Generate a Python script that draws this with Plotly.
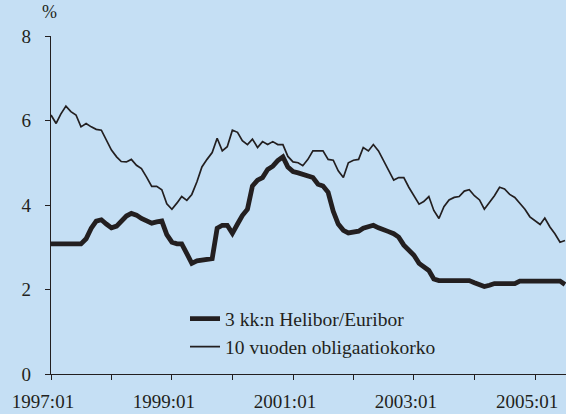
import plotly.graph_objects as go
import pandas as pd

start = "1997-01-01"
euribor = [3.08, 3.08, 3.08, 3.08, 3.08, 3.08, 3.08, 3.20, 3.45, 3.62,
           3.65, 3.55, 3.46, 3.50, 3.62, 3.74, 3.80, 3.76, 3.68, 3.62,
           3.57, 3.60, 3.62, 3.30, 3.12, 3.08, 3.08, 2.85, 2.62, 2.68,
           2.70, 2.72, 2.73, 3.45, 3.52, 3.52, 3.33, 3.55, 3.75, 3.90,
           4.45, 4.59, 4.65, 4.84, 4.92, 5.05, 5.14, 4.90, 4.79, 4.76,
           4.72, 4.68, 4.65, 4.49, 4.45, 4.30, 3.85, 3.55, 3.40, 3.34,
           3.35, 3.38, 3.45, 3.48, 3.52, 3.46, 3.40, 3.37, 3.32, 3.24,
           3.05, 2.92, 2.81, 2.62, 2.55, 2.45, 2.25, 2.21, 2.21, 2.21,
           2.21, 2.21, 2.21, 2.21, 2.16, 2.12, 2.07, 2.10, 2.14, 2.14,
           2.14, 2.14, 2.14, 2.20, 2.20, 2.20, 2.20, 2.20, 2.20, 2.20,
           2.20, 2.20, 2.12]
bond10 = [6.13, 5.93, 6.15, 6.34, 6.21, 6.13, 5.85, 5.93, 5.85, 5.79,
          5.77, 5.55, 5.30, 5.14, 5.03, 5.02, 5.08, 4.94, 4.86, 4.66,
          4.44, 4.44, 4.36, 4.03, 3.90, 4.05, 4.20, 4.11, 4.25, 4.55,
          4.90, 5.08, 5.24, 5.58, 5.28, 5.38, 5.77, 5.72, 5.52, 5.43,
          5.56, 5.36, 5.50, 5.43, 5.50, 5.43, 5.43, 5.15, 5.02, 5.00,
          4.93, 5.08, 5.28, 5.28, 5.28, 5.08, 5.06, 4.81, 4.65, 5.00,
          5.06, 5.08, 5.36, 5.28, 5.43, 5.28, 5.06, 4.80, 4.59, 4.65,
          4.65, 4.42, 4.21, 4.02, 4.08, 4.20, 3.87, 3.68, 3.96, 4.12,
          4.18, 4.20, 4.33, 4.36, 4.22, 4.12, 3.90, 4.05, 4.22, 4.42,
          4.38, 4.25, 4.18, 4.04, 3.90, 3.72, 3.63, 3.54, 3.69, 3.48,
          3.32, 3.12, 3.16]
dates = pd.date_range(start, periods=len(euribor), freq="MS")

tick_vals = pd.date_range("1997-01-01", "2005-01-01", freq="YS")
tick_text = ["1997:01", "", "1999:01", "", "2001:01", "", "2003:01", "", "2005:01"]
y_ticks = [0, 2, 4, 6, 8]

ink = "#231f20"
bg = "#c5dff4"
font = "Liberation Serif"
fs = 19

# plot area in pixels: left 51, right 566, top 36, bottom 374
PL, PR, PT, PB = 51, 566, 36, 374
def px(xp):
    return (xp - PL) / (PR - PL)
def py(yp):
    return (PB - yp) / (PB - PT)

fig = go.Figure()
fig.add_trace(go.Scatter(x=dates, y=euribor, mode="lines", name="3 kk:n Helibor/Euribor",
                         line=dict(color=ink, width=4.8), legend="legend"))
fig.add_trace(go.Scatter(x=dates, y=bond10, mode="lines", name="10 vuoden obligaatiokorko",
                         line=dict(color=ink, width=1.7), legend="legend2"))

fig.update_layout(
    width=566, height=414,
    margin=dict(l=PL, r=566 - PR, t=PT, b=414 - PB, autoexpand=False),
    paper_bgcolor=bg, plot_bgcolor=bg,
    font=dict(family=font, size=fs, color=ink),
    showlegend=True,
    legend=dict(x=px(185), y=py(319), xref="paper", yref="paper",
                xanchor="left", yanchor="middle", bgcolor="rgba(0,0,0,0)",
                font=dict(size=19.5, family=font, color=ink)),
    legend2=dict(x=px(185), y=py(347), xref="paper", yref="paper",
                 xanchor="left", yanchor="middle", bgcolor="rgba(0,0,0,0)",
                 font=dict(size=19.5, family=font, color=ink)),
    xaxis=dict(range=["1997-01-01", "2005-07-07"], tickvals=tick_vals, ticktext=tick_text,
               automargin=False,
               showgrid=False, zeroline=False, showline=True, linecolor=ink, linewidth=1.3,
               ticks="outside", ticklen=5, tickcolor=ink, tickwidth=1.3,
               ticklabelshift=-8, ticklabelstandoff=5,
               tickfont=dict(family=font, size=fs, color=ink)),
    yaxis=dict(range=[0, 8], tickvals=y_ticks, automargin=False,
               showgrid=False, zeroline=False, showline=True, linecolor=ink, linewidth=1.3,
               ticks="outside", ticklen=5, tickcolor=ink, tickwidth=1.3,
               ticklabelstandoff=10,
               tickfont=dict(family=font, size=fs, color=ink)),
    annotations=[dict(text="%", x=px(49.5), y=py(12), xref="paper", yref="paper",
                      showarrow=False, xanchor="center", yanchor="middle",
                      font=dict(family=font, size=18, color=ink))],
)

fig.write_html("out.html", config={"displayModeBar": False},
               post_script="document.body.style.margin='0';document.body.style.overflow='hidden';")
